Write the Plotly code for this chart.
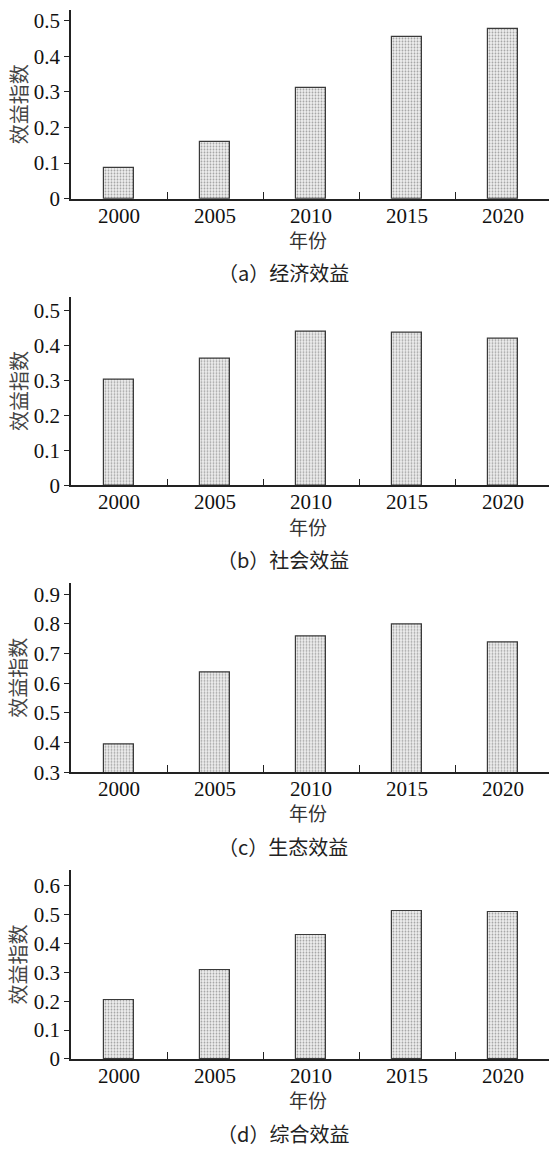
import plotly.graph_objects as go

W, H = 549, 1156

years = ["2000", "2005", "2010", "2015", "2020"]

economic = [0.086, 0.160, 0.311, 0.455, 0.476]
social = [0.302, 0.362, 0.440, 0.437, 0.420]
ecological = [0.394, 0.637, 0.759, 0.800, 0.738]
overall = [0.204, 0.307, 0.430, 0.513, 0.508]

captions = ["（a）经济效益", "（b）社会效益", "（c）生态效益", "（d）综合效益"]
y_title = "效益指数"
x_title = "年份"

series = [economic, social, ecological, overall]
y_ranges = [(0, 0.53), (0, 0.539), (0.3, 0.937), (0, 0.655)]

# panel geometry in pixels: (top of y axis, baseline)
panels_px = [(9, 200), (299, 490), (589, 780), (879, 1070)]
x_left_px = 71
cat_px = 96.0

num_font = "Liberation Serif, Noto Sans CJK SC, serif"
cjk_font = "Noto Sans CJK SC, sans-serif"

fig = go.Figure()
annotations = []

for i, (vals, (top, bot), yr) in enumerate(zip(series, panels_px, y_ranges)):
    n = i + 1
    xa = "x" if n == 1 else f"x{n}"
    ya = "y" if n == 1 else f"y{n}"
    fig.add_trace(go.Bar(
        x=years, y=vals, xaxis=xa, yaxis=ya, width=0.31,
        marker=dict(
            color="white",
            line=dict(color="#3a3a3a", width=1.2),
            pattern=dict(shape=".", fgcolor="#555555", bgcolor="#eeeeee",
                         size=3, solidity=0.3),
        ),
        showlegend=False,
    ))
    dom_y = [1 - bot / H, 1 - top / H]
    x_max = -0.5 + (W - x_left_px) / cat_px
    fig.layout[f"xaxis{'' if n == 1 else n}"] = dict(
        domain=[x_left_px / W, 1.0], anchor=ya, type="category",
        range=[-0.5, x_max], showline=True, linecolor="#222", linewidth=1.5,
        ticks="inside", tickson="boundaries", ticklen=7, tickwidth=1.3,
        tickcolor="#222", showgrid=False, zeroline=False,
        ticklabelstandoff=-3,
        tickfont=dict(family=num_font, size=21, color="#111"),
    )
    fig.layout[f"yaxis{'' if n == 1 else n}"] = dict(
        domain=dom_y, anchor=xa, range=list(yr), showline=True,
        linecolor="#222", linewidth=1.5, ticks="outside", ticklen=5,
        tickwidth=1.3, tickcolor="#222", dtick=0.1, tick0=yr[0],
        showgrid=False, zeroline=False, ticklabelstandoff=0,
        tickfont=dict(family=num_font, size=21, color="#111"),
    )
    annotations.append(dict(
        text=y_title, textangle=-90, xref="paper", yref="paper",
        x=18 / W, y=1 - (top + bot) / 2 / H, showarrow=False,
        font=dict(family=cjk_font, size=20, color="#444"),
        xanchor="center", yanchor="middle",
    ))
    annotations.append(dict(
        text=x_title, xref="paper", yref="paper",
        x=308 / W, y=1 - (bot + 41) / H, showarrow=False,
        font=dict(family=cjk_font, size=19, color="#333"),
        xanchor="center", yanchor="middle",
    ))
    annotations.append(dict(
        text=captions[i], xref="paper", yref="paper",
        x=283 / W, y=1 - (bot + 75) / H, showarrow=False,
        font=dict(family=cjk_font, size=20, color="#222"),
        xanchor="center", yanchor="middle",
    ))

fig.update_layout(
    width=W, height=H, margin=dict(l=0, r=0, t=0, b=0),
    paper_bgcolor="white", plot_bgcolor="white",
    annotations=annotations, bargap=0.0,
)

fig.write_html("out.html")
